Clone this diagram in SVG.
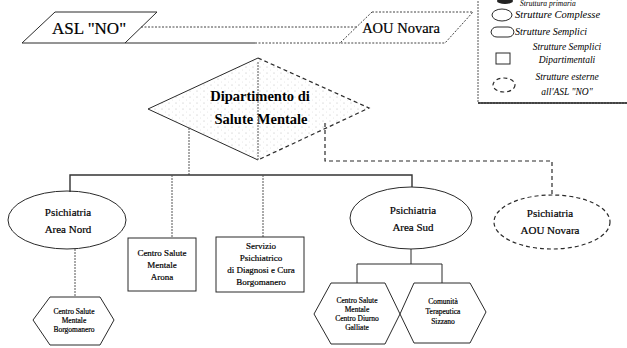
<svg xmlns="http://www.w3.org/2000/svg" width="627" height="348" viewBox="0 0 627 348">
  <style>
    .solid { fill: none; stroke: #2a2a2a; stroke-width: 1; }
    .dash { fill: none; stroke: #2a2a2a; stroke-width: 1.2; stroke-dasharray: 4 3; }
    .dot { fill: none; stroke: #444; stroke-width: 1; stroke-dasharray: 2 1.5; }
    .conn { fill: none; stroke: #555; stroke-width: 1; stroke-dasharray: 2 1; }
    .bar { fill: none; stroke: #333; stroke-width: 1.4; }
    .t { font-family: "Liberation Serif", "Times New Roman", serif; fill: #000; text-anchor: middle; stroke: #000; stroke-width: 0.2; }
    .big { font-size: 17px; }
    .dip { font-size: 14.5px; font-weight: bold; stroke-width: 0; }
    .ell { font-size: 11px; }
    .box { font-size: 9px; }
    .hex { font-size: 7.5px; }
    .leg { font-family: "Liberation Serif", "Times New Roman", serif; font-style: italic; font-size: 9.5px; fill: #000; }
  </style>
  <defs>
    <pattern id="stipple" width="7" height="6" patternUnits="userSpaceOnUse">
      <circle cx="1" cy="1" r="0.5" fill="#999"/>
      <circle cx="4.5" cy="4" r="0.4" fill="#bbb"/>
    </pattern>
  </defs>
  <rect width="627" height="348" fill="#fff"/>

  <!-- top institutions -->
  <g id="asl-no">
    <polygon class="solid" points="55,12 157,12 125,43 22,43"/>
    <text class="t big" x="89" y="34">ASL "NO"</text>
  </g>
  <g id="aou-novara">
    <polygon class="dot" points="372,12 473,12 445,43 340,43"/>
    <text class="t big" x="401" y="33" style="font-size:14.5px">AOU Novara</text>
  </g>

  <!-- legend -->
  <g id="legend">
    <rect x="478" y="-2" width="160" height="105" fill="none" stroke="#555" stroke-width="1" stroke-dasharray="2 1"/>
    <line x1="478" y1="103" x2="627" y2="103" stroke="#222" stroke-width="1.5"/>
    <ellipse cx="505" cy="1" rx="8" ry="3" fill="#222"/>
    <text class="leg" x="520" y="6" style="font-size:7.5px">Struttura primaria</text>
    <ellipse cx="502" cy="15" rx="10" ry="6" class="solid"/>
    <text class="leg" x="515" y="18" style="font-size:10.5px">Strutture Complesse</text>
    <path class="solid" d="M497,27 H508 Q513,27 514,32 Q513,37 508,37 H497 Q492,37 491,32 Q492,27 497,27 Z"/>
    <text class="leg" x="515" y="35" style="font-size:10px">Strutture Semplici</text>
    <rect x="496" y="53" width="14" height="11" class="solid"/>
    <text class="leg" x="567" y="50" text-anchor="middle">Strutture Semplici</text>
    <text class="leg" x="567" y="63" text-anchor="middle">Dipartimentali</text>
    <ellipse cx="504" cy="85" rx="11" ry="7" class="dash" stroke-dasharray="2 2"/>
    <text class="leg" x="567" y="80" text-anchor="middle">Strutture esterne</text>
    <text class="leg" x="567" y="95" text-anchor="middle">all'ASL "NO"</text>
  </g>

  <!-- department -->
  <g id="dipartimento">
    <polygon points="258,58 369,108 258,160 148,109" fill="url(#stipple)" opacity="0.8"/>
    <polyline class="solid" points="258,58 148,109 258,160"/>
    <polyline class="dash" points="258,58 369,108 258,160"/>
    <text class="t dip" x="260" y="101">Dipartimento di</text>
    <text class="t dip" x="261" y="124">Salute Mentale</text>
  </g>

  <!-- connectors -->
  <g id="connectors">
    <line class="dot" x1="141" y1="27" x2="357" y2="27"/>
    <line class="solid" x1="125" y1="43" x2="255" y2="43"/>
    <line class="dot" x1="255" y1="43" x2="340" y2="43"/>
    <line class="conn" x1="258" y1="62" x2="258" y2="160"/>
    <line class="conn" x1="189" y1="128" x2="189" y2="175"/>
    <polyline class="bar" points="70,192 70,175 412,175 412,187"/>
    <line class="conn" x1="172" y1="175" x2="172" y2="238"/>
    <line class="conn" x1="263" y1="175" x2="263" y2="237"/>
    <polyline class="dash" points="325,123 325,161 552,161 552,195"/>
    <line class="conn" x1="75" y1="249" x2="75" y2="296"/>
    <polyline class="solid" points="411,249 411,264"/>
    <polyline class="solid" points="357,283 357,264 442,264 442,283"/>
  </g>

  <!-- complex structures -->
  <g id="psichiatria-area-nord">
    <ellipse cx="67" cy="220" rx="59" ry="29" class="solid"/>
    <text class="t ell" x="68" y="216">Psichiatria</text>
    <text class="t ell" x="68" y="233">Area Nord</text>
  </g>
  <g id="psichiatria-area-sud">
    <ellipse cx="411" cy="218" rx="61" ry="31" class="solid"/>
    <text class="t ell" x="413" y="214">Psichiatria</text>
    <text class="t ell" x="413" y="231">Area Sud</text>
  </g>
  <g id="psichiatria-aou-novara">
    <ellipse cx="552" cy="222" rx="58" ry="27" class="dash"/>
    <text class="t ell" x="550" y="217">Psichiatria</text>
    <text class="t ell" x="550" y="234">AOU Novara</text>
  </g>

  <!-- departmental structures -->
  <g id="csm-arona">
    <rect x="128" y="238" width="68" height="53" class="solid"/>
    <text class="t box" x="162" y="256">Centro Salute</text>
    <text class="t box" x="162" y="268">Mentale</text>
    <text class="t box" x="162" y="280">Arona</text>
  </g>
  <g id="spdc-borgomanero">
    <rect x="216" y="237" width="88" height="55" class="solid"/>
    <text class="t box" x="261" y="249">Servizio</text>
    <text class="t box" x="261" y="261">Psichiatrico</text>
    <text class="t box" x="261" y="273">di Diagnosi e Cura</text>
    <text class="t box" x="261" y="285">Borgomanero</text>
  </g>

  <!-- simple structures -->
  <g id="csm-borgomanero">
    <polygon class="solid" points="33,320 50,297 100,297 114,320 100,345 50,345"/>
    <text class="t hex" x="74" y="314">Centro Salute</text>
    <text class="t hex" x="74" y="323">Mentale</text>
    <text class="t hex" x="74" y="332">Borgomanero</text>
  </g>
  <g id="csm-galliate">
    <polygon class="solid" points="314,314 331,283 385,283 400,314 385,344 331,344"/>
    <text class="t hex" x="357" y="303">Centro Salute</text>
    <text class="t hex" x="357" y="312">Mentale</text>
    <text class="t hex" x="357" y="321">Centro Diurno</text>
    <text class="t hex" x="357" y="330">Galliate</text>
  </g>
  <g id="ct-sizzano">
    <polygon class="solid" points="400,314 414,283 470,283 486,312 470,343 414,343"/>
    <text class="t hex" x="443" y="304">Comunità</text>
    <text class="t hex" x="443" y="314">Terapeutica</text>
    <text class="t hex" x="443" y="324">Sizzano</text>
  </g>
</svg>
